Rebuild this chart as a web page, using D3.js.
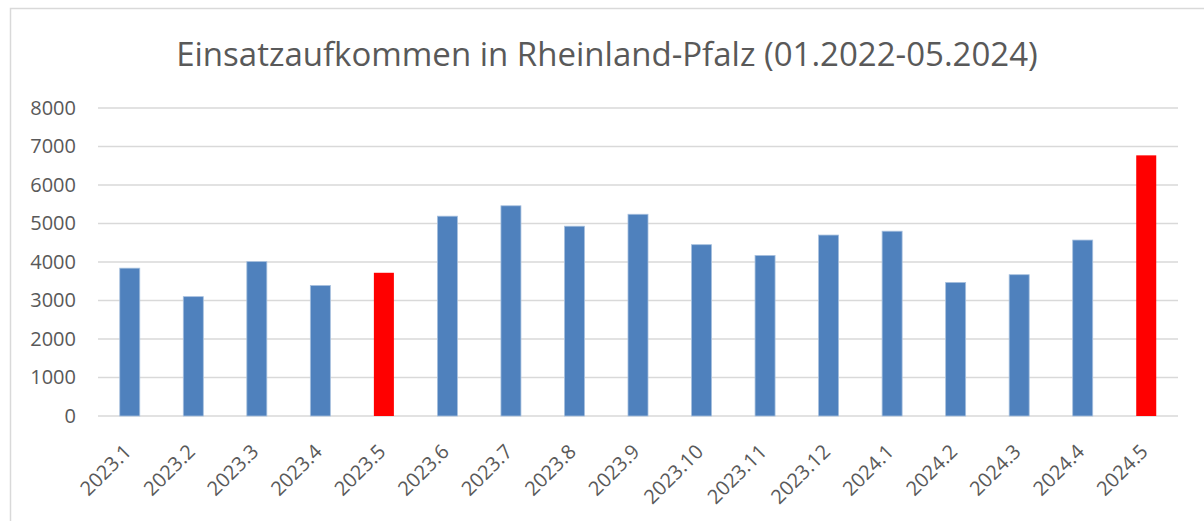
<!DOCTYPE html>
<html>
<head>
<meta charset="utf-8">
<script src="https://cdn.jsdelivr.net/npm/d3@7"></script>
<style>
  body { margin: 0; background: #fff; }
  text { font-family: "Open Sans", sans-serif; fill: #595959; }
</style>
</head>
<body>
<div id="chart"></div>
<script>
const months = ['2023.1', '2023.2', '2023.3', '2023.4', '2023.5', '2023.6', '2023.7', '2023.8', '2023.9',
  '2023.10', '2023.11', '2023.12', '2024.1', '2024.2', '2024.3', '2024.4', '2024.5'];
const einsaetze = [3840, 3100, 4010, 3390, 3720, 5190, 5460, 4930, 5240,
  4450, 4170, 4700, 4800, 3470, 3670, 4570, 6770];
const highlighted = ['2023.5', '2024.5'];
const yTicks = [0, 1000, 2000, 3000, 4000, 5000, 6000, 7000, 8000];

const width = 1204;
const height = 521;
const margin = { top: 108, right: 26, bottom: 105, left: 98 };

const svg = d3.select('#chart')
              .append('svg')
              .attr('width', width)
              .attr('height', height);

// chart frame
svg.append('rect')
   .attr('x', 10.5)
   .attr('y', 8.5)
   .attr('width', width + 10)
   .attr('height', height + 10)
   .attr('fill', 'none')
   .attr('stroke', '#d9d9d9')
   .attr('stroke-width', 1.5);

svg.append('text')
   .attr('x', 607)
   .attr('y', 66)
   .attr('text-anchor', 'middle')
   .style('font-size', '33px')
   .text('Einsatzaufkommen in Rheinland-Pfalz (01.2022-05.2024)');

const xScale = d3.scaleBand()
                 .domain(months)
                 .range([margin.left, width - margin.right])
                 .paddingInner(0.685)
                 .paddingOuter(0.3425);

const yScale = d3.scaleLinear()
                 .domain([0, 8000])
                 .range([height - margin.bottom, margin.top]);

// gridlines
svg.append('g')
   .selectAll('line')
   .data(yTicks)
   .join('line')
   .attr('x1', margin.left)
   .attr('x2', width - margin.right)
   .attr('y1', (d) => yScale(d))
   .attr('y2', (d) => yScale(d))
   .attr('stroke', '#d9d9d9')
   .attr('stroke-width', 1.5);

const yAxis = d3.axisLeft(yScale)
                .tickValues(yTicks)
                .tickFormat(d3.format('d'))
                .tickSize(0)
                .tickPadding(22);

svg.append('g')
   .attr('transform', 'translate(' + margin.left + ', 0)')
   .call(yAxis)
   .call((g) => g.select('.domain').remove())
   .selectAll('text')
   .style('font-size', '20px')
   .style('fill', '#595959');

svg.append('g')
   .selectAll('rect')
   .data(months)
   .join('rect')
   .attr('x', (d) => xScale(d))
   .attr('y', (d, i) => yScale(einsaetze[i]))
   .attr('width', xScale.bandwidth())
   .attr('height', (d, i) => yScale(0) - yScale(einsaetze[i]))
   .attr('fill', (d) => highlighted.includes(d) ? '#ff0000' : '#4f81bd')
   .attr('stroke', (d) => highlighted.includes(d) ? 'none' : '#a7c0de')
   .attr('stroke-width', 0.8);

const xAxis = d3.axisBottom(xScale)
                .tickSize(0)
                .tickPadding(0);

svg.append('g')
   .attr('transform', 'translate(0, ' + (height - margin.bottom) + ')')
   .call(xAxis)
   .call((g) => g.select('.domain').remove())
   .selectAll('text')
   .style('font-size', '20px')
   .style('fill', '#595959')
   .attr('text-anchor', 'end')
   .attr('dy', '0.35em')
   .attr('transform', 'translate(-2, 32) rotate(-45)');
</script>
</body>
</html>
